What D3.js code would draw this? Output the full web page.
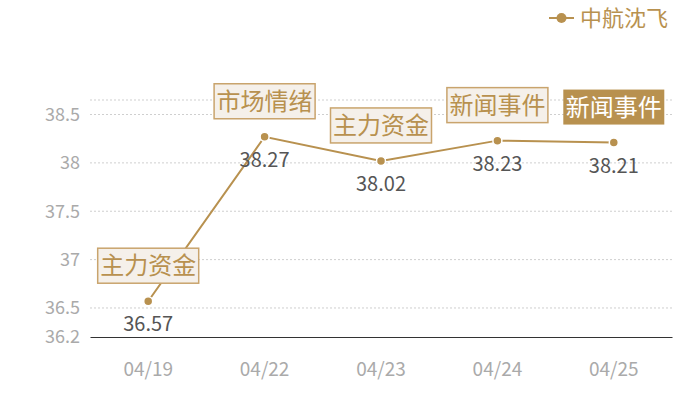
<!DOCTYPE html>
<html>
<head>
<meta charset="utf-8">
<script src="https://cdn.jsdelivr.net/npm/d3@7"></script>
<style>
  body { margin: 0; background: #fff; }
  text { font-family: "Noto Sans CJK SC", "Noto Sans", sans-serif; }
</style>
</head>
<body>
<script>
// chart data
var dates = ["04/19", "04/22", "04/23", "04/24", "04/25"];
var prices = [36.57, 38.27, 38.02, 38.23, 38.21];
var tags = ["主力资金", "市场情绪", "主力资金", "新闻事件", "新闻事件"];
var yTicks = [36.2, 36.5, 37, 37.5, 38, 38.5];
var seriesName = "中航沈飞";

var gold = "#b8914f";

var svg = d3.select("body").append("svg")
            .attr("width", 700)
            .attr("height", 400);

var x = d3.scaleBand().domain(dates).range([90, 672]);
var y = d3.scaleLinear().domain([36.2, 38.65]).range([337, 100]);

// grid lines (dotted)
svg.append("g").selectAll("line")
   .data(yTicks.slice(1).concat([38.65]))
   .enter().append("line")
   .attr("x1", 90).attr("x2", 672)
   .attr("y1", function(d) { return y(d); })
   .attr("y2", function(d) { return y(d); })
   .attr("stroke", "#cfcfcf")
   .attr("stroke-dasharray", "2,2");

// y axis labels
var yAxis = d3.axisLeft(y).tickValues(yTicks).tickSize(0).tickPadding(10)
              .tickFormat(function(d) { return d; });
var yg = svg.append("g").attr("transform", "translate(90,0)").call(yAxis);
yg.select(".domain").remove();
yg.selectAll("text").attr("fill", "#aaa").attr("font-size", "18px")
  .style("font-family", "'Noto Sans CJK SC', sans-serif");

// x axis
var xAxis = d3.axisBottom(x).tickSize(0).tickPadding(26);
var xg = svg.append("g").attr("transform", "translate(0,337)").call(xAxis);
xg.select(".domain").attr("stroke", "#333").attr("stroke-width", 1.2);
xg.selectAll("text").attr("fill", "#aaa").attr("font-size", "19px")
  .style("font-family", "'Noto Sans CJK SC', sans-serif");

var cx = function(d, i) { return x(dates[i]) + x.bandwidth() / 2; };

// the line
var line = d3.line()
             .x(function(d, i) { return cx(d, i); })
             .y(function(d) { return y(d); });
svg.append("path").datum(prices)
   .attr("d", line)
   .attr("fill", "none")
   .attr("stroke", gold)
   .attr("stroke-width", 2);

// points
svg.append("g").selectAll("circle")
   .data(prices).enter().append("circle")
   .attr("cx", cx)
   .attr("cy", function(d) { return y(d); })
   .attr("r", 4.5)
   .attr("fill", gold)
   .attr("stroke", "#fff")
   .attr("stroke-width", 1.5);

// value labels below points
svg.append("g").selectAll("text")
   .data(prices).enter().append("text")
   .attr("x", cx)
   .attr("y", function(d) { return y(d) + 30; })
   .attr("text-anchor", "middle")
   .attr("font-size", "20px")
   .attr("fill", "#555")
   .text(function(d) { return d.toFixed(2); });

// tag boxes above points
var boxW = 101, boxH = 35;
var tagG = svg.append("g").selectAll("g")
   .data(prices).enter().append("g")
   .attr("transform", function(d, i) {
       return "translate(" + (cx(d, i) - boxW / 2) + "," + (y(d) - 18 - boxH) + ")";
   });
tagG.append("rect")
    .attr("width", boxW).attr("height", boxH)
    .attr("fill", function(d, i) { return i === tags.length - 1 ? gold : "#f5f0ea"; })
    .attr("stroke", function(d, i) { return i === tags.length - 1 ? "none" : "#c9a46d"; })
    .attr("stroke-width", 1.5);
tagG.append("text")
    .attr("x", boxW / 2).attr("y", boxH / 2 + 8.5)
    .attr("text-anchor", "middle")
    .attr("font-size", "24px")
    .attr("fill", function(d, i) { return i === tags.length - 1 ? "#fff" : gold; })
    .text(function(d, i) { return tags[i]; });

// legend
var lg = svg.append("g").attr("transform", "translate(549,18)");
lg.append("line").attr("x1", 0).attr("x2", 25)
  .attr("stroke", gold).attr("stroke-width", 2);
lg.append("circle").attr("cx", 12.5).attr("r", 5).attr("fill", gold);
lg.append("text").attr("x", 31).attr("y", 8)
  .attr("font-size", "22px").attr("fill", gold)
  .text(seriesName);
</script>
</body>
</html>
